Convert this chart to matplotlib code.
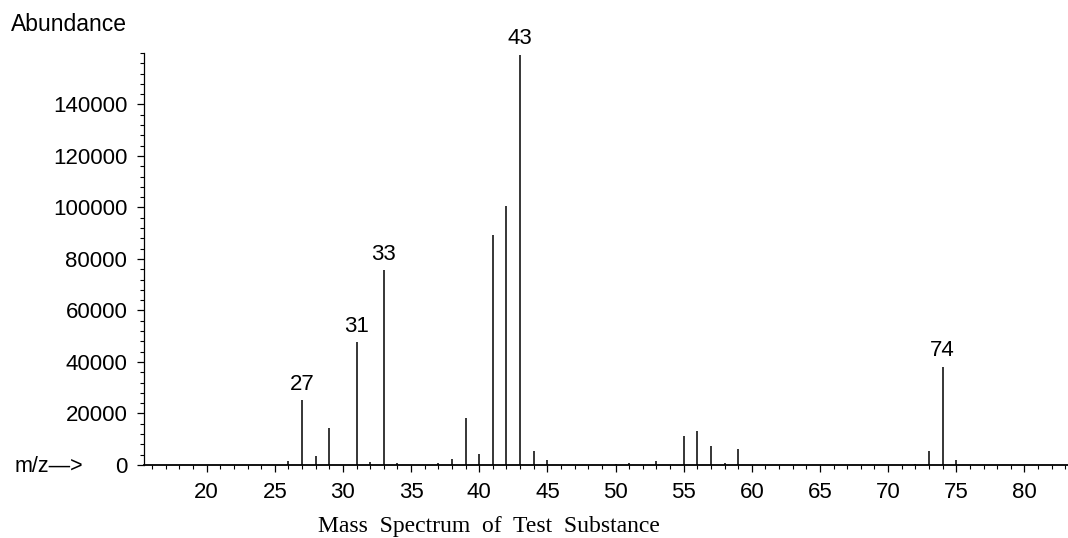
import numpy as np
import matplotlib.pyplot as plt
from matplotlib.ticker import MultipleLocator

# peak list (m/z, abundance)
mz = [26, 27, 28, 29, 31, 32, 33, 34, 37, 38, 39, 40, 41, 42, 43, 44, 45,
      50, 51, 53, 55, 56, 57, 58, 59, 72, 73, 74, 75]
abund = [1500, 25200, 3500, 14300, 47900, 1000, 75800, 600, 700, 2200, 18100,
         4200, 89300, 100600, 159400, 5600, 1900, 500, 700, 1500, 11400, 13200,
         7500, 700, 6100, 500, 5400, 38200, 1900]
labelled = [27, 31, 33, 43, 74]

fig = plt.figure(figsize=(10.68, 5.38), dpi=100)
ax = fig.add_axes([0.1348, 0.1357, 0.8652, 0.7658])

ax.vlines(mz, 0, abund, colors='k', linewidth=1.1)
for m, a in zip(mz, abund):
    if m in labelled:
        ax.text(m, a + 2000, str(m), ha='center', va='bottom',
                fontsize=16, family='Liberation Sans')

ax.set_xlim(15.4, 83.2)
ax.set_ylim(0, 160000)
ax.spines['top'].set_visible(False)
ax.spines['right'].set_visible(False)
ax.spines['left'].set_linewidth(0.9)
ax.spines['bottom'].set_linewidth(1.3)

ax.set_yticks(np.arange(0, 140001, 20000))
ax.yaxis.set_minor_locator(MultipleLocator(4000))
ax.set_xticks(np.arange(20, 81, 5))
ax.xaxis.set_minor_locator(MultipleLocator(1))
ax.tick_params(which='major', length=5, width=0.9, labelsize=16, pad=7)
ax.tick_params(which='minor', length=3, width=0.8)
for lab in ax.get_xticklabels() + ax.get_yticklabels():
    lab.set_family('Liberation Sans')

fig.text(0.01, 0.954, 'Abundance', fontsize=16.5, family='Liberation Sans',
         va='center')
fig.text(0.014, 0.132, 'm/z\u2014>', fontsize=15.5, family='Liberation Sans',
         va='center')
fig.text(0.458, 0.022, 'Mass  Spectrum  of  Test  Substance', fontsize=17,
         family='Liberation Serif', ha='center', va='center')

plt.savefig('out.png', dpi=100)
